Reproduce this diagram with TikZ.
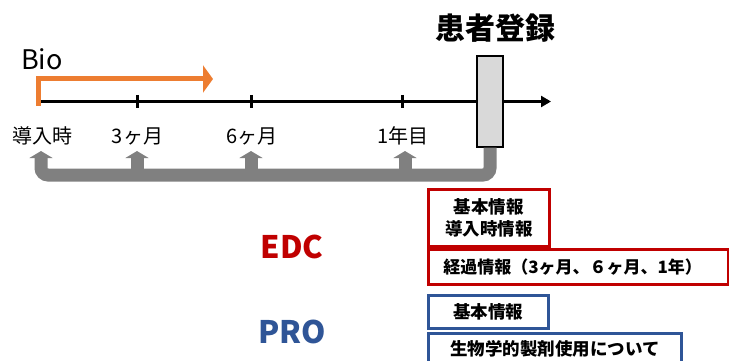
\documentclass[tikz,border=0pt]{standalone}
\usepackage{fontspec}
\setmainfont{Noto Sans CJK JP}
\usetikzlibrary{arrows.meta}
\definecolor{bioorange}{HTML}{ED7D31}
\definecolor{edcred}{HTML}{C00000}
\definecolor{problue}{HTML}{2F5597}
\definecolor{bandgray}{HTML}{808080}
\definecolor{regfill}{HTML}{D9D9D9}
\tikzset{
  tl/.style={line width=3pt, -{Triangle[width=11pt,length=10pt]}},
  tickmark/.style={line width=3pt},
  bioarrow/.style={bioorange, line width=5pt, -{Triangle[width=27pt,length=10pt]}},
  gband/.style={bandgray, line width=13pt, rounded corners=7pt, -{Triangle[width=23pt,length=7pt]}},
  tlabel/.style={font=\fontsize{20}{22}\selectfont, inner sep=0pt},
  redbox/.style={draw=edcred, line width=2.5pt, font=\bfseries\fontsize{17.5}{22}\selectfont, align=center, inner sep=0pt, anchor=north west},
  bluebox/.style={draw=problue, line width=2.5pt, font=\bfseries\fontsize{17.5}{22}\selectfont, align=center, inner sep=0pt, anchor=north west},
}
\begin{document}
\begin{tikzpicture}[x=1pt,y=-1pt]
\useasboundingbox (0,0) rectangle (729,361);
\clip (0,0) rectangle (729,361);
% timeline
\coordinate (tlS) at (38,101.5);
\coordinate (tlE) at (551,101.5);
\draw[tl] (tlS) -- (tlE);
\foreach \x/\n in {137/1,251/2,402/3}{
  \coordinate (tk\n a) at (\x,95);
  \coordinate (tk\n b) at (\x,108);
  \draw[tickmark] (tk\n a) -- (tk\n b);
}
% registration box
\node[draw=black, line width=1.3pt, fill=regfill, minimum width=26pt, minimum height=91pt, inner sep=0pt] (reg) at (490,101.5) {};
\node[font=\bfseries\fontsize{30}{31}\selectfont, inner sep=0pt] (regt) at (495,28) {患者登録};
% Bio arrow
\coordinate (bioS) at (38,106);
\coordinate (bioE) at (213,79);
\draw[bioarrow] (bioS) |- (bioE);
\node[font=\fontsize{27}{28}\selectfont, inner sep=0pt] (bio) at (42,59) {Bio};
% time labels
\node[tlabel] (l0) at (42.5,136) {導入時};
\node[tlabel] (l1) at (137.5,136) {3ヶ月};
\node[tlabel] (l2) at (252,136) {6ヶ月};
\node[tlabel] (l3) at (403,136) {1年目};
% gray band with arrows
\coordinate (a0) at (41,151);
\coordinate (a1) at (137,151);
\coordinate (a2) at (251,151);
\coordinate (a3) at (405,151);
\coordinate (b1) at (137,175);
\coordinate (b2) at (251,175);
\coordinate (b3) at (405,175);
\draw[gband] (reg.south) |- (41,175) -- (a0);
\draw[gband] (b1) -- (a1);
\draw[gband] (b2) -- (a2);
\draw[gband] (b3) -- (a3);
% EDC / PRO
\node[font=\bfseries\fontsize{31}{32}\selectfont, text=edcred, inner sep=0pt] (edc) at (292,247) {EDC};
\node[font=\bfseries\fontsize{31}{32}\selectfont, text=problue, inner sep=0pt] (pro) at (292,332) {PRO};
\node[redbox, minimum width=121pt, minimum height=57pt] (r1) at (427,188) {基本情報\\導入時情報};
\node[redbox, minimum width=300pt, minimum height=35pt, text width=270pt, inner xsep=15pt, align=left, font=\bfseries\fontsize{17}{22}\selectfont] (r2) at (427,248) {経過情報（3ヶ月、６ヶ月、1年）};
\node[bluebox, minimum width=120pt, minimum height=33pt] (p1) at (427,294) {基本情報};
\node[bluebox, minimum width=253pt, minimum height=32pt, text width=253pt, align=center] (p2) at (427,332) {生物学的製剤使用について};
\end{tikzpicture}
\end{document}
